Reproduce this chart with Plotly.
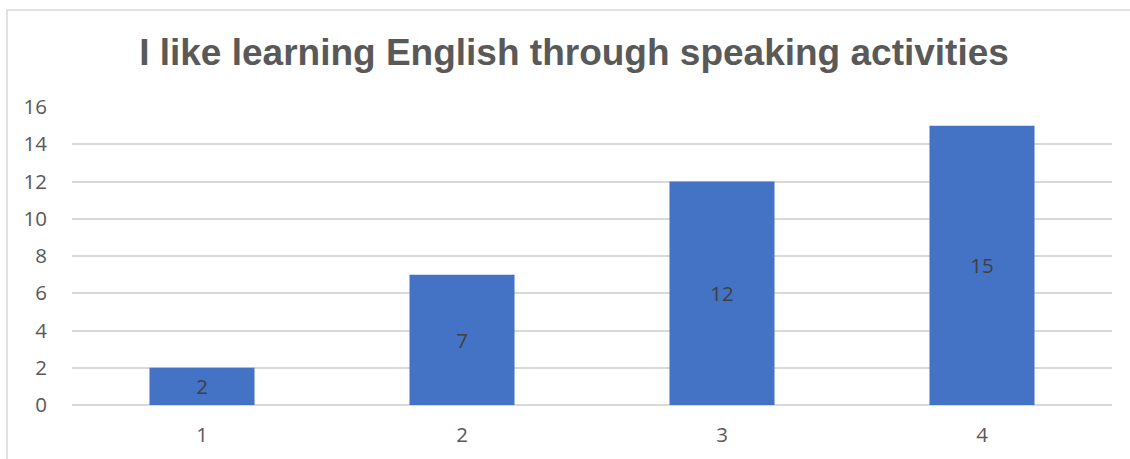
import plotly.graph_objects as go

# Survey responses: rating on the x axis, number of students on the y axis
categories = ["1", "2", "3", "4"]
counts = [2, 7, 12, 15]
y_ticks = [0, 2, 4, 6, 8, 10, 12, 14, 16]

title_text = "I like learning English through speaking activities"
text_grey = "#595959"
grid_grey = "#d9d9d9"
bar_blue = "#4472c4"
label_font = dict(family="Open Sans, Liberation Sans, sans-serif", size=20.5, color=text_grey)

fig = go.Figure()
fig.add_trace(go.Bar(
    x=categories,
    y=counts,
    text=[str(v) for v in counts],
    textposition="inside",
    insidetextanchor="middle",
    textfont=dict(family="Open Sans, Liberation Sans, sans-serif", size=20.5, color="#404040"),
    marker=dict(color=bar_blue, line=dict(width=0)),
    width=0.404,
    hoverinfo="x+y",
))

fig.update_layout(
    width=1130,
    height=459,
    margin=dict(l=72, r=18, t=107, b=54),
    paper_bgcolor="white",
    plot_bgcolor="white",
    showlegend=False,
    title=dict(
        text=title_text,
        x=0.4827,
        xref="paper",
        xanchor="center",
        y=1 - 52 / 459,
        yanchor="middle",
        font=dict(family="Liberation Sans, Arial, sans-serif", size=37, color=text_grey, weight="bold"),
    ),
    xaxis=dict(
        type="category",
        showgrid=False,
        showline=False,
        zeroline=False,
        ticks="outside",
        ticklen=11,
        tickcolor="rgba(0,0,0,0)",
        tickfont=label_font,
    ),
    yaxis=dict(
        range=[0, 16],
        tickvals=y_ticks,
        showgrid=True,
        gridcolor=grid_grey,
        gridwidth=1.5,
        zeroline=True,
        zerolinecolor=grid_grey,
        zerolinewidth=1.5,
        showline=False,
        ticks="outside",
        ticklen=20,
        tickcolor="rgba(0,0,0,0)",
        tickfont=label_font,
    ),
    shapes=[
        # chart frame (left and top edges visible; runs past the right and bottom)
        dict(type="rect", xref="paper", yref="paper",
             x0=-0.0625, x1=1.02, y0=-0.3, y1=1.3255,
             line=dict(color=grid_grey, width=1.5), fillcolor="rgba(0,0,0,0)", layer="below"),
    ],
)

fig.write_html("out.html")
